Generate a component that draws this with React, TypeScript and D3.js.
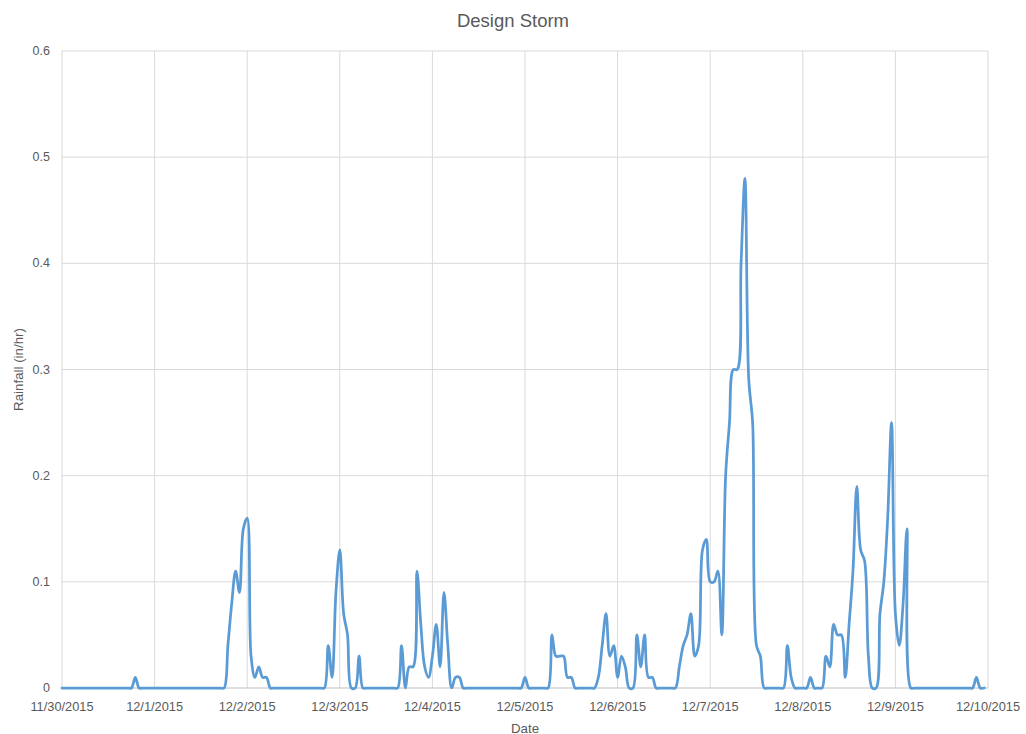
import React from 'react';
import * as d3 from 'd3';

// Hourly rainfall intensity (in/hr), one array per calendar day (24 hourly readings each).
const nov30 = [0, 0, 0, 0, 0, 0, 0, 0, 0, 0, 0, 0, 0, 0, 0, 0, 0, 0, 0, 0.01, 0, 0, 0, 0];
const dec1 = [0, 0, 0, 0, 0, 0, 0, 0, 0, 0, 0, 0, 0, 0, 0, 0, 0, 0, 0, 0.04, 0.08, 0.11, 0.09, 0.15];
const dec2 = [0.16, 0.03, 0.01, 0.02, 0.01, 0.01, 0, 0, 0, 0, 0, 0, 0, 0, 0, 0, 0, 0, 0, 0, 0, 0.04, 0.01, 0.09];
const dec3 = [0.13, 0.07, 0.05, 0, 0, 0.03, 0, 0, 0, 0, 0, 0, 0, 0, 0, 0, 0.04, 0, 0.02, 0.02, 0.11, 0.06, 0.02, 0.01];
const dec4 = [0.03, 0.06, 0.02, 0.09, 0.04, 0, 0.01, 0.01, 0, 0, 0, 0, 0, 0, 0, 0, 0, 0, 0, 0, 0, 0, 0, 0];
const dec5 = [0.01, 0, 0, 0, 0, 0, 0, 0.05, 0.03, 0.03, 0.03, 0.01, 0.01, 0, 0, 0, 0, 0, 0, 0.01, 0.04, 0.07, 0.03, 0.04];
const dec6 = [0.01, 0.03, 0.02, 0, 0, 0.05, 0.02, 0.05, 0.01, 0.01, 0, 0, 0, 0, 0, 0, 0.02, 0.04, 0.05, 0.07, 0.03, 0.04, 0.13, 0.14];
const dec7 = [0.1, 0.1, 0.11, 0.05, 0.2, 0.25, 0.3, 0.3, 0.4, 0.48, 0.29, 0.25, 0.04, 0.03, 0, 0, 0, 0, 0, 0, 0.04, 0.01, 0, 0];
const dec8 = [0, 0, 0.01, 0, 0, 0, 0.03, 0.02, 0.06, 0.05, 0.05, 0.01, 0.06, 0.11, 0.19, 0.13, 0.12, 0.03, 0, 0, 0.07, 0.1, 0.16, 0.25];
const dec9 = [0.07, 0.04, 0.08, 0.15, 0, 0, 0, 0, 0, 0, 0, 0, 0, 0, 0, 0, 0, 0, 0, 0, 0, 0.01, 0, 0];

const days = [nov30, dec1, dec2, dec3, dec4, dec5, dec6, dec7, dec8, dec9];

// Axis ticks
const dateTicks = [
  '11/30/2015', '12/1/2015', '12/2/2015', '12/3/2015', '12/4/2015', '12/5/2015',
  '12/6/2015', '12/7/2015', '12/8/2015', '12/9/2015', '12/10/2015',
];
const rainTicks = [0, 0.1, 0.2, 0.3, 0.4, 0.5, 0.6];

const W = 1026;
const H = 734;
const plot = { left: 62, right: 988, top: 51, bottom: 688 };
const FONT = '"Liberation Sans", Arial, sans-serif';
const TEXT = '#595959';
const GRID = '#d9d9d9';
const LINE = '#5b9bd5';

const parseDate = d3.timeParse('%m/%d/%Y');

export default function App() {
  const tickDates = dateTicks.map((s) => parseDate(s) as Date);
  const start = tickDates[0];
  const end = tickDates[tickDates.length - 1];

  const x = d3.scaleTime().domain([start, end]).range([plot.left, plot.right]);
  const y = d3.scaleLinear().domain([0, 0.6]).range([plot.bottom, plot.top]);

  const hourly = days.flat();
  const points = hourly.map((v, i) => ({ t: d3.timeHour.offset(start, i), v }));

  const line = d3
    .line<{ t: Date; v: number }>()
    .x((d) => x(d.t))
    .y((d) => y(d.v))
    .curve(d3.curveCatmullRom.alpha(0.5));

  const fmtY = (v: number) => (v === 0 ? '0' : d3.format('.1f')(v));

  return (
    <svg
      width={W}
      height={H}
      style={{ position: 'absolute', left: 0, top: 0, background: '#fff' }}
      fontFamily={FONT}
    >
      <rect x={0} y={0} width={W} height={H} fill="#fff" />

      {/* horizontal gridlines */}
      {rainTicks.slice(1).map((t) => (
        <line key={'h' + t} x1={plot.left} x2={plot.right} y1={y(t)} y2={y(t)} stroke={GRID} strokeWidth={1} />
      ))}
      {/* vertical gridlines, one per day */}
      {tickDates.map((d, i) => (
        <line key={'v' + i} x1={x(d)} x2={x(d)} y1={plot.top} y2={plot.bottom} stroke={GRID} strokeWidth={1} />
      ))}
      {/* baseline */}
      <line x1={plot.left} x2={plot.right} y1={y(0)} y2={y(0)} stroke="#bfbfbf" strokeWidth={1} />

      {/* rainfall series */}
      <path
        d={line(points) || ''}
        fill="none"
        stroke={LINE}
        strokeWidth={2.75}
        strokeLinejoin="round"
        strokeLinecap="round"
      />

      {/* y tick labels */}
      {rainTicks.map((t) => (
        <text key={'yl' + t} x={50} y={y(t)} textAnchor="end" dominantBaseline="central" fontSize={12.5} fill={TEXT}>
          {fmtY(t)}
        </text>
      ))}
      {/* x tick labels */}
      {tickDates.map((d, i) => (
        <text key={'xl' + i} x={x(d)} y={706} textAnchor="middle" dominantBaseline="central" fontSize={12.8} fill={TEXT}>
          {dateTicks[i]}
        </text>
      ))}

      {/* titles */}
      <text x={W / 2} y={20} textAnchor="middle" dominantBaseline="central" fontSize={18.5} fill={TEXT}>
        Design Storm
      </text>
      <text x={(plot.left + plot.right) / 2} y={728} textAnchor="middle" dominantBaseline="central" fontSize={13.3} fill={TEXT}>
        Date
      </text>
      <text
        transform={`translate(18,${(plot.top + plot.bottom) / 2}) rotate(-90)`}
        textAnchor="middle"
        dominantBaseline="central"
        fontSize={13.3}
        fill={TEXT}
      >
        Rainfall (in/hr)
      </text>
    </svg>
  );
}
